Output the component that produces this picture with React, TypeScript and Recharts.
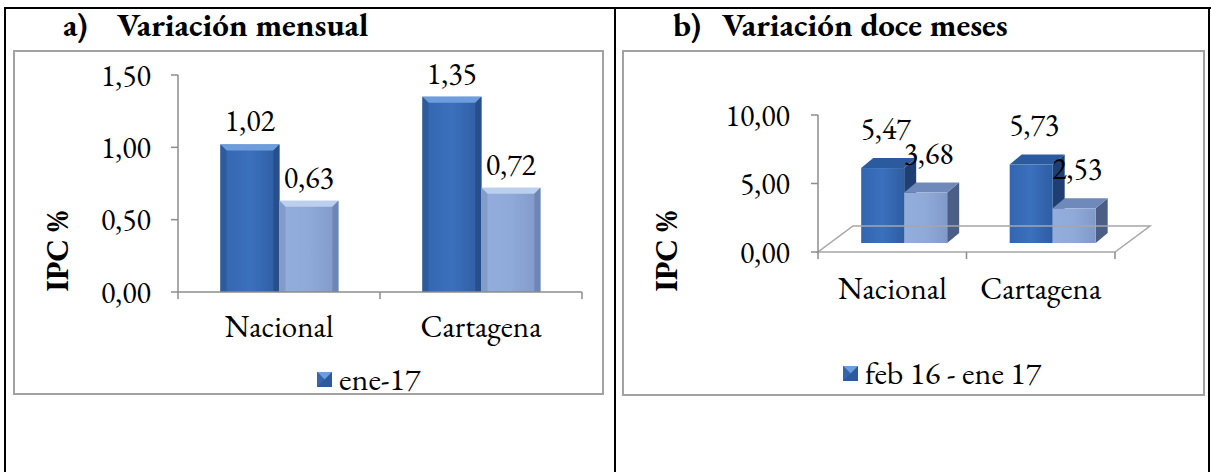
import React from 'react';
import { BarChart, Bar, XAxis, YAxis, Legend, LabelList, ReferenceLine } from 'recharts';

// data
const categories = ['Nacional', 'Cartagena'];
const mensualSerie1 = [1.02, 1.35];
const mensualSerie2 = [0.63, 0.72];
const mensualTicks = [0, 0.5, 1, 1.5];
const anualSerie1 = [5.47, 5.73];
const anualSerie2 = [3.68, 2.53];
const anualTicks = [0, 5, 10];
const legendMensual = 'ene-17';
const legendAnual = 'feb 16 - ene 17';

const mensualData = categories.map((name, i) => ({ name, s1: mensualSerie1[i], s2: mensualSerie2[i] }));
const anualData = categories.map((name, i) => ({ name, s1: anualSerie1[i], s2: anualSerie2[i] }));

const SERIF = '"EB Garamond", "Liberation Serif", serif';
const FS = 30;
const AXIS = '#8c8c8c';
const fmt = (v: number) => Number(v).toFixed(2).replace('.', ',');

const DARK = { body: 'url(#gDark)', top: '#6d9ddd', left: '#2e5b9c', right: '#284f8c', side: '#1f3f74', lid: '#2c5a9e' };
const LIGHT = { body: 'url(#gLight)', top: '#bccfee', left: '#829cca', right: '#6e86b6', side: '#4a5e86', lid: '#7089bb' };

const Gradients = () => (
  <defs>
    <linearGradient id="gDark" x1="0" y1="0" x2="1" y2="0">
      <stop offset="0%" stopColor="#3366b0" />
      <stop offset="50%" stopColor="#3b70bd" />
      <stop offset="100%" stopColor="#2e5da1" />
    </linearGradient>
    <linearGradient id="gLight" x1="0" y1="0" x2="1" y2="0">
      <stop offset="0%" stopColor="#93addc" />
      <stop offset="50%" stopColor="#8fa9d9" />
      <stop offset="100%" stopColor="#8099c9" />
    </linearGradient>
  </defs>
);

const rectOf = (p: any) => {
  const vb = p.viewBox ?? {};
  return { x: vb.x ?? p.x, y: vb.y ?? p.y, w: vb.width ?? p.width, h: vb.height ?? p.height };
};

// flat bar with a bevel, chart a
const bevelBar = (tone: any) => (props: any) => {
  const { x, y, width: w, height: h } = props;
  if (!h || h <= 0) return <g />;
  const b = Math.min(6, w / 4, h / 2);
  return (
    <g>
      <rect x={x} y={y} width={w} height={h} fill={tone.body} />
      <polygon points={`${x},${y} ${x + w},${y} ${x + w - b},${y + b} ${x + b},${y + b}`} fill={tone.top} />
      <polygon points={`${x},${y} ${x + b},${y + b} ${x + b},${y + h} ${x},${y + h}`} fill={tone.left} />
      <polygon points={`${x + w},${y} ${x + w},${y + h} ${x + w - b},${y + h} ${x + w - b},${y + b}`} fill={tone.right} />
    </g>
  );
};

// 3d column, chart b
const SHIFT_X = 12;
const SHIFT_Y = -9;
const DEPTH_X = 12;
const DEPTH_Y = -10;
const FLOOR_DX = 35;
const FLOOR_DY = -26;

const boxBar = (tone: any) => (props: any) => {
  const { x, y, width: w, height: h } = props;
  if (!h || h <= 0) return <g />;
  const fx = x + SHIFT_X;
  const fy = y + SHIFT_Y;
  return (
    <g>
      <polygon
        points={`${fx + w},${fy} ${fx + w + DEPTH_X},${fy + DEPTH_Y} ${fx + w + DEPTH_X},${fy + h + DEPTH_Y} ${fx + w},${fy + h}`}
        fill={tone.side}
      />
      <polygon
        points={`${fx},${fy} ${fx + DEPTH_X},${fy + DEPTH_Y} ${fx + w + DEPTH_X},${fy + DEPTH_Y} ${fx + w},${fy}`}
        fill={tone.lid}
      />
      <rect x={fx} y={fy} width={w} height={h} fill={tone.body} />
    </g>
  );
};

const Floor = (props: any) => {
  const { x1, y1, x2 } = props;
  return (
    <polygon
      points={`${x1},${y1} ${x2},${y1} ${x2 + FLOOR_DX},${y1 + FLOOR_DY} ${x1 + FLOOR_DX},${y1 + FLOOR_DY}`}
      fill="none"
      stroke="#a6a6a6"
      strokeWidth={1.5}
    />
  );
};

// category tick: Excel puts the tick marks between categories
const categoryTick = (halfBand: number, textDy: number) => (props: any) => {
  const { x, y, payload, index } = props;
  const half = payload?.offset || halfBand;
  const last = index === categories.length - 1;
  return (
    <g>
      <line x1={x - half} y1={y} x2={x - half} y2={y + 7} stroke={AXIS} strokeWidth={1.5} />
      {last && <line x1={x + half} y1={y} x2={x + half} y2={y + 7} stroke={AXIS} strokeWidth={1.5} />}
      <text x={x} y={y + textDy} textAnchor="middle" fill="#000" fontSize={31} fontFamily={SERIF}>
        {payload.value}
      </text>
    </g>
  );
};

const axisTitle = (cx: number, cy: number) => (props: any) => {
  const vb = props.viewBox ?? {};
  const x = (vb.x ?? 0) + cx;
  const y = cy;
  return (
    <text x={x} y={y} transform={`rotate(-90, ${x}, ${y})`} textAnchor="middle" dominantBaseline="central"
      fontFamily={SERIF} fontWeight="bold" fontSize={31} fill="#000">
      IPC %
    </text>
  );
};

const LegendKey = ({ label }: { label: string }) => (
  <div style={{ display: 'flex', alignItems: 'center', fontFamily: SERIF, fontSize: 32, color: '#000', lineHeight: 1 }}>
    <svg width={15} height={15} style={{ display: 'block' }}>
      <rect x={0} y={0} width={15} height={15} fill="#2d5a9c" />
      <polygon points="0,0 15,0 7.5,7.5" fill="#6d9ddd" />
      <polygon points="0,0 7.5,7.5 0,15" fill="#3465ad" />
    </svg>
    <span style={{ marginLeft: 7 }}>{label}</span>
  </div>
);

const tickStyle = { fill: '#000', fontSize: FS, fontFamily: SERIF };

const valueLabel = (p: any) => {
  const r = rectOf(p);
  return (
    <text x={r.x + r.w / 2} y={r.y - 13} textAnchor="middle" fontSize={FS} fontFamily={SERIF} fill="#000">
      {fmt(p.value)}
    </text>
  );
};

function MensualChart() {
  return (
    <BarChart
      width={589}
      height={343}
      data={mensualData}
      margin={{ top: 24, right: 21, left: 0, bottom: 42 }}
      barCategoryGap="21%"
      barGap={0}
      style={{ position: 'absolute', left: 14, top: 51 }}
    >
      <Gradients />
      <XAxis
        dataKey="name"
        height={60}
        tickLine={false}
        tickSize={0}
        tickMargin={0}
        axisLine={{ stroke: AXIS, strokeWidth: 1.5 }}
        tick={categoryTick(101, 45)}
        interval={0}
      />
      <YAxis
        width={164}
        domain={[0, 1.5]}
        ticks={mensualTicks}
        tickFormatter={fmt}
        tickSize={7}
        tickMargin={20}
        axisLine={{ stroke: AXIS, strokeWidth: 1.5 }}
        tickLine={{ stroke: AXIS, strokeWidth: 1.5 }}
        tick={tickStyle}
        label={{ content: axisTitle(43, 200) }}
      />
      <Legend
        layout="horizontal"
        verticalAlign="middle"
        align="center"
        wrapperStyle={{ left: 303, top: 312, width: 260 }}
        content={(p: any) => <LegendKey label={p?.payload?.[0]?.value ?? legendMensual} />}
      />
      <Bar dataKey="s1" name={legendMensual} shape={bevelBar(DARK)} isAnimationActive={false}>
        <LabelList dataKey="s1" content={valueLabel} />
      </Bar>
      <Bar dataKey="s2" legendType="none" shape={bevelBar(LIGHT)} isAnimationActive={false}>
        <LabelList dataKey="s2" content={valueLabel} />
      </Bar>
    </BarChart>
  );
}

function AnualChart() {
  const label3d = (p: any) => {
    const r = rectOf(p);
    return (
      <text x={r.x + r.w / 2 + SHIFT_X + 3} y={r.y + SHIFT_Y - 29} textAnchor="middle" fontSize={FS} fontFamily={SERIF} fill="#000">
        {fmt(p.value)}
      </text>
    );
  };
  return (
    <BarChart
      width={582}
      height={344}
      data={anualData}
      margin={{ top: 64, right: 90, left: 0, bottom: 83 }}
      barCategoryGap="21%"
      barGap={0}
      style={{ position: 'absolute', left: 623, top: 51 }}
    >
      <Gradients />
      <XAxis
        dataKey="name"
        height={60}
        tickLine={false}
        tickSize={0}
        tickMargin={0}
        axisLine={false}
        tick={categoryTick(74, 47)}
        interval={0}
      />
      <YAxis
        width={195}
        domain={[0, 10]}
        ticks={anualTicks}
        tickFormatter={fmt}
        tickSize={7}
        tickMargin={21}
        axisLine={{ stroke: AXIS, strokeWidth: 1.5 }}
        tickLine={{ stroke: AXIS, strokeWidth: 1.5 }}
        tick={tickStyle}
        label={{ content: axisTitle(43, 200) }}
      />
      <ReferenceLine y={0} shape={Floor} ifOverflow="visible" />
      <Legend
        layout="horizontal"
        verticalAlign="middle"
        align="center"
        wrapperStyle={{ left: 220, top: 306, width: 320 }}
        content={(p: any) => <LegendKey label={p?.payload?.[0]?.value ?? legendAnual} />}
      />
      <Bar dataKey="s1" name={legendAnual} shape={boxBar(DARK)} isAnimationActive={false}>
        <LabelList dataKey="s1" content={label3d} />
      </Bar>
      <Bar dataKey="s2" legendType="none" shape={boxBar(LIGHT)} isAnimationActive={false}>
        <LabelList dataKey="s2" content={label3d} />
      </Bar>
    </BarChart>
  );
}

const titleStyle: React.CSSProperties = {
  position: 'absolute',
  top: 8,
  fontFamily: SERIF,
  fontWeight: 'bold',
  fontSize: 33,
  lineHeight: '33px',
  whiteSpace: 'pre',
  color: '#000',
};

const boxStyle: React.CSSProperties = {
  position: 'absolute',
  boxSizing: 'border-box',
  border: '2px solid #a2a2a2',
};

export default function App() {
  return (
    <div style={{ position: 'absolute', left: 0, top: 0, width: 1211, height: 472, background: '#fff', overflow: 'hidden' }}>
      {/* table lines */}
      <div style={{ position: 'absolute', left: 4, top: 7, width: 1207, height: 2, background: '#000' }} />
      <div style={{ position: 'absolute', left: 4, top: 7, width: 2, height: 465, background: '#000' }} />
      <div style={{ position: 'absolute', left: 614, top: 7, width: 2, height: 465, background: '#000' }} />
      <div style={{ position: 'absolute', left: 1208, top: 7, width: 2, height: 465, background: '#000' }} />

      <div style={{ ...titleStyle, left: 63 }}>a)</div>
      <div style={{ ...titleStyle, left: 117 }}>Variación mensual</div>
      <div style={{ ...titleStyle, left: 673 }}>b)</div>
      <div style={{ ...titleStyle, left: 722 }}>Variación doce meses</div>

      <div style={{ ...boxStyle, left: 13, top: 50, width: 591, height: 345 }} />
      <div style={{ ...boxStyle, left: 622, top: 50, width: 583, height: 346 }} />

      <MensualChart />
      <AnualChart />
    </div>
  );
}
